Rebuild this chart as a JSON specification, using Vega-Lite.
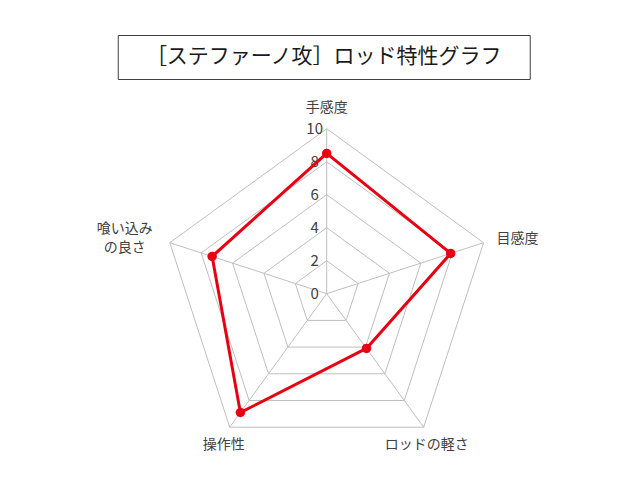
{
  "$schema": "https://vega.github.io/schema/vega-lite/v6.json",
  "padding": {"left": 8, "top": 34, "right": 0, "bottom": 0},
  "background": "white",
  "spacing": 0,
  "center": true,
  "config": {"font": "Noto Sans CJK JP", "view": {"stroke": null}},
  "datasets": {
    "scores": [
      {"item": "手感度", "value": 8.5},
      {"item": "目感度", "value": 7.9},
      {"item": "ロッドの軽さ", "value": 4.1},
      {"item": "操作性", "value": 8.9},
      {"item": "喰い込みの良さ", "value": 7.3}
    ],
    "ticks": [{"level": 0}, {"level": 2}, {"level": 4}, {"level": 6}, {"level": 8}, {"level": 10}],
    "heading": [{"title": "［ステファーノ攻］ロッド特性グラフ"}]
  },
  "vconcat": [
    {
      "width": 412,
      "height": 44,
      "view": {"stroke": "#404040", "strokeWidth": 1},
      "data": {"name": "heading"},
      "mark": {"type": "text", "fontSize": 21, "color": "#1a1a1a", "baseline": "middle", "align": "center"},
      "encoding": {"text": {"field": "title", "type": "nominal"}}
    },
    {
      "width": 632,
      "height": 402,
      "layer": [
        {
          "data": {"name": "ticks"},
          "transform": [
            {"filter": "datum.level > 0"},
            {"calculate": "[0,1,2,3,4,5]", "as": "pos"},
            {"flatten": ["pos"]},
            {"calculate": "datum.level * sin(datum.pos * 2 * PI / 5)", "as": "gx"},
            {"calculate": "datum.level * cos(datum.pos * 2 * PI / 5)", "as": "gy"}
          ],
          "mark": {"type": "line", "color": "#bfbfbf", "strokeWidth": 1},
          "encoding": {
            "x": {"field": "gx", "type": "quantitative", "scale": {"domain": [-19.315, 18.988], "nice": false, "zero": false}, "axis": null},
            "y": {"field": "gy", "type": "quantitative", "scale": {"domain": [-11.412, 12.952], "nice": false, "zero": false}, "axis": null},
            "detail": {"field": "level", "type": "nominal"},
            "order": {"field": "pos", "type": "quantitative"}
          }
        },
        {
          "data": {"name": "scores"},
          "transform": [
            {"window": [{"op": "row_number", "as": "rn"}]},
            {"calculate": "0", "as": "ox"},
            {"calculate": "10 * sin((datum.rn - 1) * 2 * PI / 5)", "as": "ex"},
            {"calculate": "10 * cos((datum.rn - 1) * 2 * PI / 5)", "as": "ey"}
          ],
          "mark": {"type": "rule", "color": "#bfbfbf", "strokeWidth": 1},
          "encoding": {
            "x": {"field": "ox", "type": "quantitative", "scale": {"domain": [-19.315, 18.988], "nice": false, "zero": false}, "axis": null},
            "y": {"field": "ox", "type": "quantitative", "scale": {"domain": [-11.412, 12.952], "nice": false, "zero": false}, "axis": null},
            "x2": {"field": "ex"},
            "y2": {"field": "ey"}
          }
        },
        {
          "data": {"name": "ticks"},
          "transform": [{"calculate": "0", "as": "ox"}],
          "mark": {"type": "text", "align": "center", "baseline": "middle", "dx": -12, "fontSize": 15, "color": "#404040"},
          "encoding": {
            "x": {"field": "ox", "type": "quantitative", "scale": {"domain": [-19.315, 18.988], "nice": false, "zero": false}, "axis": null},
            "y": {"field": "level", "type": "quantitative", "scale": {"domain": [-11.412, 12.952], "nice": false, "zero": false}, "axis": null},
            "text": {"field": "level", "type": "quantitative"}
          }
        },
        {
          "data": {"name": "scores"},
          "transform": [
            {"window": [{"op": "row_number", "as": "rn"}]},
            {"calculate": "datum.rn === 1 ? [0, 5] : [datum.rn - 1]", "as": "pos"},
            {"flatten": ["pos"]},
            {"calculate": "datum.value * sin(datum.pos * 2 * PI / 5)", "as": "px"},
            {"calculate": "datum.value * cos(datum.pos * 2 * PI / 5)", "as": "py"}
          ],
          "mark": {"type": "line", "color": "#e60012", "strokeWidth": 3, "strokeJoin": "round"},
          "encoding": {
            "x": {"field": "px", "type": "quantitative", "scale": {"domain": [-19.315, 18.988], "nice": false, "zero": false}, "axis": null},
            "y": {"field": "py", "type": "quantitative", "scale": {"domain": [-11.412, 12.952], "nice": false, "zero": false}, "axis": null},
            "order": {"field": "pos", "type": "quantitative"}
          }
        },
        {
          "data": {"name": "scores"},
          "transform": [
            {"window": [{"op": "row_number", "as": "rn"}]},
            {"calculate": "datum.value * sin((datum.rn - 1) * 2 * PI / 5)", "as": "px"},
            {"calculate": "datum.value * cos((datum.rn - 1) * 2 * PI / 5)", "as": "py"}
          ],
          "mark": {"type": "point", "filled": true, "size": 90, "color": "#e60012", "opacity": 1},
          "encoding": {
            "x": {"field": "px", "type": "quantitative", "scale": {"domain": [-19.315, 18.988], "nice": false, "zero": false}, "axis": null},
            "y": {"field": "py", "type": "quantitative", "scale": {"domain": [-11.412, 12.952], "nice": false, "zero": false}, "axis": null}
          }
        },
        {
          "data": {"name": "scores"},
          "transform": [
            {"window": [{"op": "row_number", "as": "rn"}]},
            {"filter": "datum.rn === 1"},
            {"calculate": "10 * sin((datum.rn - 1) * 2 * PI / 5)", "as": "ex"},
            {"calculate": "10 * cos((datum.rn - 1) * 2 * PI / 5)", "as": "ey"}
          ],
          "mark": {"type": "text", "align": "center", "baseline": "middle", "dy": -21, "fontSize": 14, "color": "#404040"},
          "encoding": {
            "x": {"field": "ex", "type": "quantitative", "scale": {"domain": [-19.315, 18.988], "nice": false, "zero": false}, "axis": null},
            "y": {"field": "ey", "type": "quantitative", "scale": {"domain": [-11.412, 12.952], "nice": false, "zero": false}, "axis": null},
            "text": {"field": "item", "type": "nominal"}
          }
        },
        {
          "data": {"name": "scores"},
          "transform": [
            {"window": [{"op": "row_number", "as": "rn"}]},
            {"filter": "datum.rn === 2"},
            {"calculate": "10 * sin((datum.rn - 1) * 2 * PI / 5)", "as": "ex"},
            {"calculate": "10 * cos((datum.rn - 1) * 2 * PI / 5)", "as": "ey"}
          ],
          "mark": {"type": "text", "align": "left", "baseline": "middle", "dx": 13, "dy": -4, "fontSize": 14, "color": "#404040"},
          "encoding": {
            "x": {"field": "ex", "type": "quantitative", "scale": {"domain": [-19.315, 18.988], "nice": false, "zero": false}, "axis": null},
            "y": {"field": "ey", "type": "quantitative", "scale": {"domain": [-11.412, 12.952], "nice": false, "zero": false}, "axis": null},
            "text": {"field": "item", "type": "nominal"}
          }
        },
        {
          "data": {"name": "scores"},
          "transform": [
            {"window": [{"op": "row_number", "as": "rn"}]},
            {"filter": "datum.rn === 3"},
            {"calculate": "10 * sin((datum.rn - 1) * 2 * PI / 5)", "as": "ex"},
            {"calculate": "10 * cos((datum.rn - 1) * 2 * PI / 5)", "as": "ey"}
          ],
          "mark": {"type": "text", "align": "center", "baseline": "middle", "dx": 3, "dy": 18, "fontSize": 14, "color": "#404040"},
          "encoding": {
            "x": {"field": "ex", "type": "quantitative", "scale": {"domain": [-19.315, 18.988], "nice": false, "zero": false}, "axis": null},
            "y": {"field": "ey", "type": "quantitative", "scale": {"domain": [-11.412, 12.952], "nice": false, "zero": false}, "axis": null},
            "text": {"field": "item", "type": "nominal"}
          }
        },
        {
          "data": {"name": "scores"},
          "transform": [
            {"window": [{"op": "row_number", "as": "rn"}]},
            {"filter": "datum.rn === 4"},
            {"calculate": "10 * sin((datum.rn - 1) * 2 * PI / 5)", "as": "ex"},
            {"calculate": "10 * cos((datum.rn - 1) * 2 * PI / 5)", "as": "ey"}
          ],
          "mark": {"type": "text", "align": "center", "baseline": "middle", "dx": -6, "dy": 18, "fontSize": 14, "color": "#404040"},
          "encoding": {
            "x": {"field": "ex", "type": "quantitative", "scale": {"domain": [-19.315, 18.988], "nice": false, "zero": false}, "axis": null},
            "y": {"field": "ey", "type": "quantitative", "scale": {"domain": [-11.412, 12.952], "nice": false, "zero": false}, "axis": null},
            "text": {"field": "item", "type": "nominal"}
          }
        },
        {
          "data": {"name": "scores"},
          "transform": [
            {"window": [{"op": "row_number", "as": "rn"}]},
            {"filter": "datum.rn === 5"},
            {"calculate": "10 * sin((datum.rn - 1) * 2 * PI / 5)", "as": "ex"},
            {"calculate": "10 * cos((datum.rn - 1) * 2 * PI / 5)", "as": "ey"},
            {"calculate": "[substring(datum.item, 0, 4), substring(datum.item, 4)]", "as": "lbl"}
          ],
          "mark": {"type": "text", "align": "center", "baseline": "middle", "dx": -45, "dy": -14, "lineHeight": 19, "fontSize": 14, "color": "#404040"},
          "encoding": {
            "x": {"field": "ex", "type": "quantitative", "scale": {"domain": [-19.315, 18.988], "nice": false, "zero": false}, "axis": null},
            "y": {"field": "ey", "type": "quantitative", "scale": {"domain": [-11.412, 12.952], "nice": false, "zero": false}, "axis": null},
            "text": {"field": "lbl", "type": "nominal"}
          }
        }
      ]
    }
  ]
}
